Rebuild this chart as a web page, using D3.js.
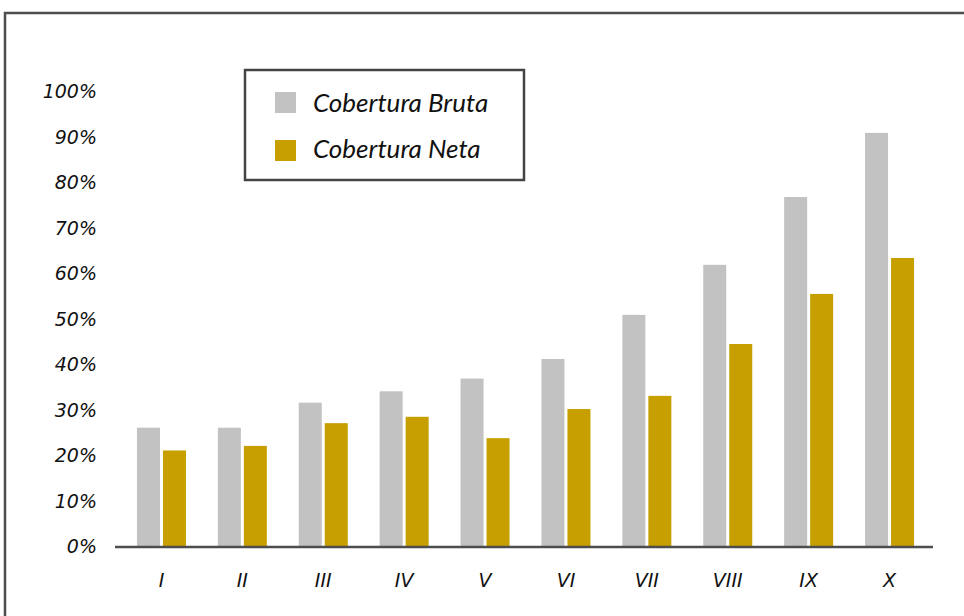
<!DOCTYPE html>
<html><head><meta charset="utf-8">
<script src="https://cdn.jsdelivr.net/npm/d3@7"></script>
<style>html,body{margin:0;padding:0;background:#fff;overflow:hidden}</style>
</head><body><svg id="c" width="964" height="616"></svg>
<script>
const categories = ["I","II","III","IV","V","VI","VII","VIII","IX","X"];
const seriesNames = ["Cobertura Bruta","Cobertura Neta"];
const bruta = [26, 26, 31.5, 34, 36.8, 41.1, 50.8, 61.8, 76.7, 90.8];
const neta  = [21, 22, 27, 28.4, 23.7, 30.1, 33, 44.4, 55.4, 63.3];
const yTicks = [0,10,20,30,40,50,60,70,80,90,100];
const colors = ["#c2c2c2","#c79f00"];

const svg = d3.select("#c");
// outer frame
svg.append("rect").attr("x",5).attr("y",13).attr("width",980).attr("height",640)
  .attr("fill","none").attr("stroke","#4d4d4d").attr("stroke-width",2.5);

const y = d3.scaleLinear().domain([0,100]).range([546,91]);
const x0 = d3.scaleBand().domain(categories).range([121,930]).paddingInner(0).paddingOuter(0);
const barW = 23, gap = 3;

const data = categories.map((c,i)=>({c, vals:[bruta[i],neta[i]]}));
const g = svg.append("g");
data.forEach(d=>{
  const cx = x0(d.c) + x0.bandwidth()/2;
  g.selectAll(null).data(d.vals).enter().append("rect")
    .attr("x",(v,j)=> j===0 ? cx - gap/2 - barW : cx + gap/2)
    .attr("y",v=>y(v)).attr("width",barW).attr("height",v=>y(0)-y(v))
    .attr("fill",(v,j)=>colors[j]);
});

// y axis labels
const yAxis = d3.axisLeft(y).tickValues(yTicks).tickFormat(d=>d+"%").tickSize(0).tickPadding(0);
const ya = svg.append("g").attr("transform","translate(97,0)").call(yAxis);
ya.select(".domain").remove();
ya.selectAll("text").attr("font-family","DejaVu Sans").attr("font-style","italic")
  .attr("font-size",19).attr("fill","#111").attr("dy","0.35em");

// x axis
const xAxis = d3.axisBottom(x0).tickSize(0).tickPadding(0);
const xa = svg.append("g").attr("transform","translate(0,580)").call(xAxis);
xa.select(".domain").remove();
xa.selectAll("text").attr("font-family","DejaVu Sans").attr("font-style","italic")
  .attr("font-size",19).attr("fill","#111").attr("dy","0.35em");
svg.append("line").attr("x1",115).attr("x2",933).attr("y1",y(0)+1).attr("y2",y(0)+1)
  .attr("stroke","#4d4d4d").attr("stroke-width",2.5);

// legend
const lg = svg.append("g");
lg.append("rect").attr("x",245).attr("y",70).attr("width",279).attr("height",110)
  .attr("fill","#fff").attr("stroke","#444").attr("stroke-width",2.5);
seriesNames.forEach((n,i)=>{
  lg.append("rect").attr("x",275).attr("y",92+i*48).attr("width",21).attr("height",21).attr("fill",colors[i]);
  lg.append("text").attr("x",313).attr("y",103+i*46).attr("dy","0.35em")
    .attr("font-family","Lato").attr("font-style","italic").attr("font-size",26)
    .attr("fill","#111").text(n);
});
</script></body></html>
